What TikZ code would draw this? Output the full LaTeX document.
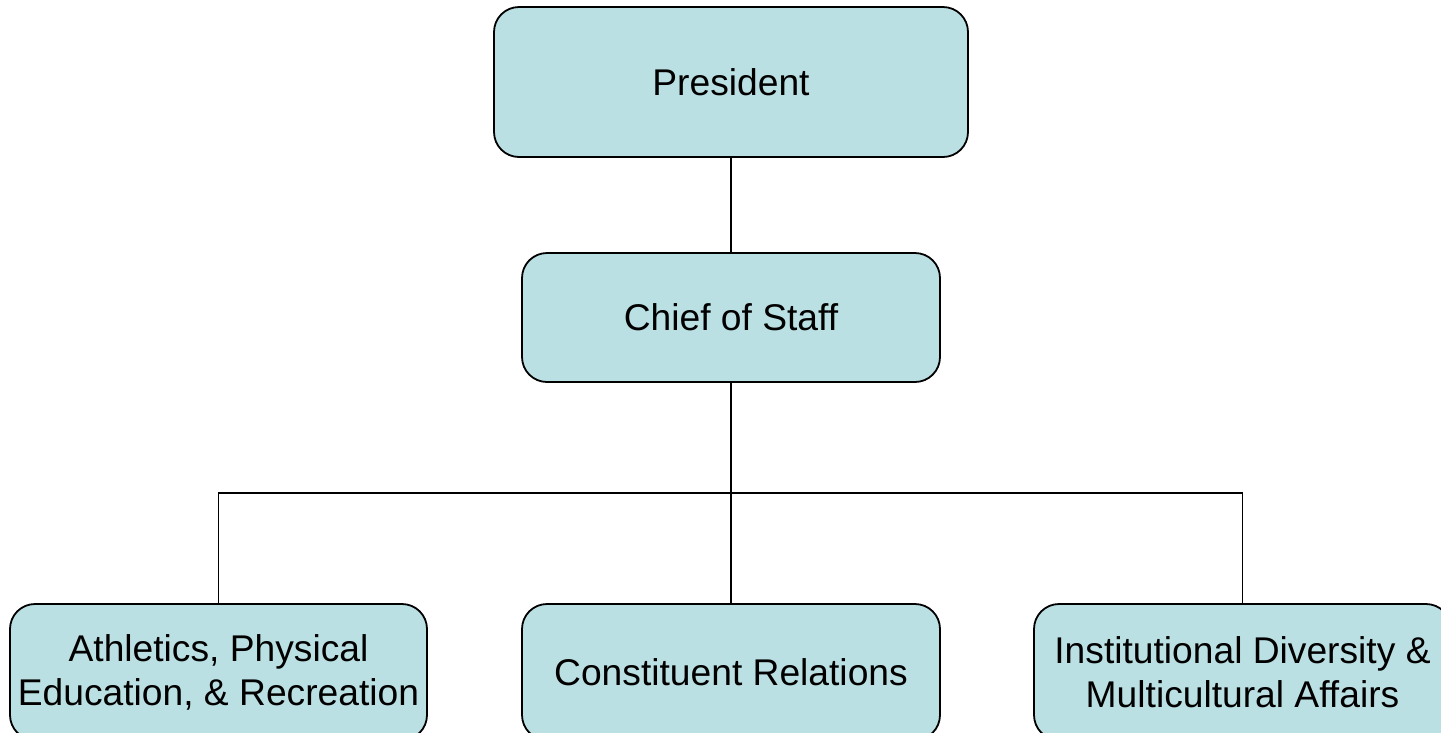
\documentclass[tikz,border=0pt]{standalone}
\usepackage{fontspec}
\setmainfont{Liberation Sans}
\definecolor{boxfill}{HTML}{BBE0E3}
\tikzset{
  orgbox/.style={draw=black, line width=1.8pt, fill=boxfill, rounded corners=25pt,
    align=center, inner sep=0pt, font=\fontsize{37.2}{44}\selectfont},
  link/.style={draw=black, line width=1.2pt}
}
\begin{document}
\begin{tikzpicture}[x=1pt,y=-1pt]
\useasboundingbox (0,0) rectangle (1441,732);
\node[orgbox, minimum width=474pt, minimum height=150pt] (pres) at (731,82) {President};
\node[orgbox, minimum width=418pt, minimum height=129pt] (chief) at (731,317.5) {Chief of Staff};
\node[orgbox, minimum width=417pt, minimum height=136pt] (ath) at (218.5,672) {Athletics, Physical\\Education, \& Recreation};
\node[orgbox, minimum width=418pt, minimum height=136pt] (con) at (731,672) {Constituent Relations};
\node[orgbox, minimum width=417pt, minimum height=136pt] (div) at (1242.5,672) {Institutional Diversity \&\\Multicultural Affairs};
\coordinate (bus) at (731,493);
\path[link] (pres.south) -- (chief.north);
\path[link] (chief.south) -- (con.north);
\path[link] (ath.north) |- (bus) -| (div.north);
\end{tikzpicture}
\end{document}
